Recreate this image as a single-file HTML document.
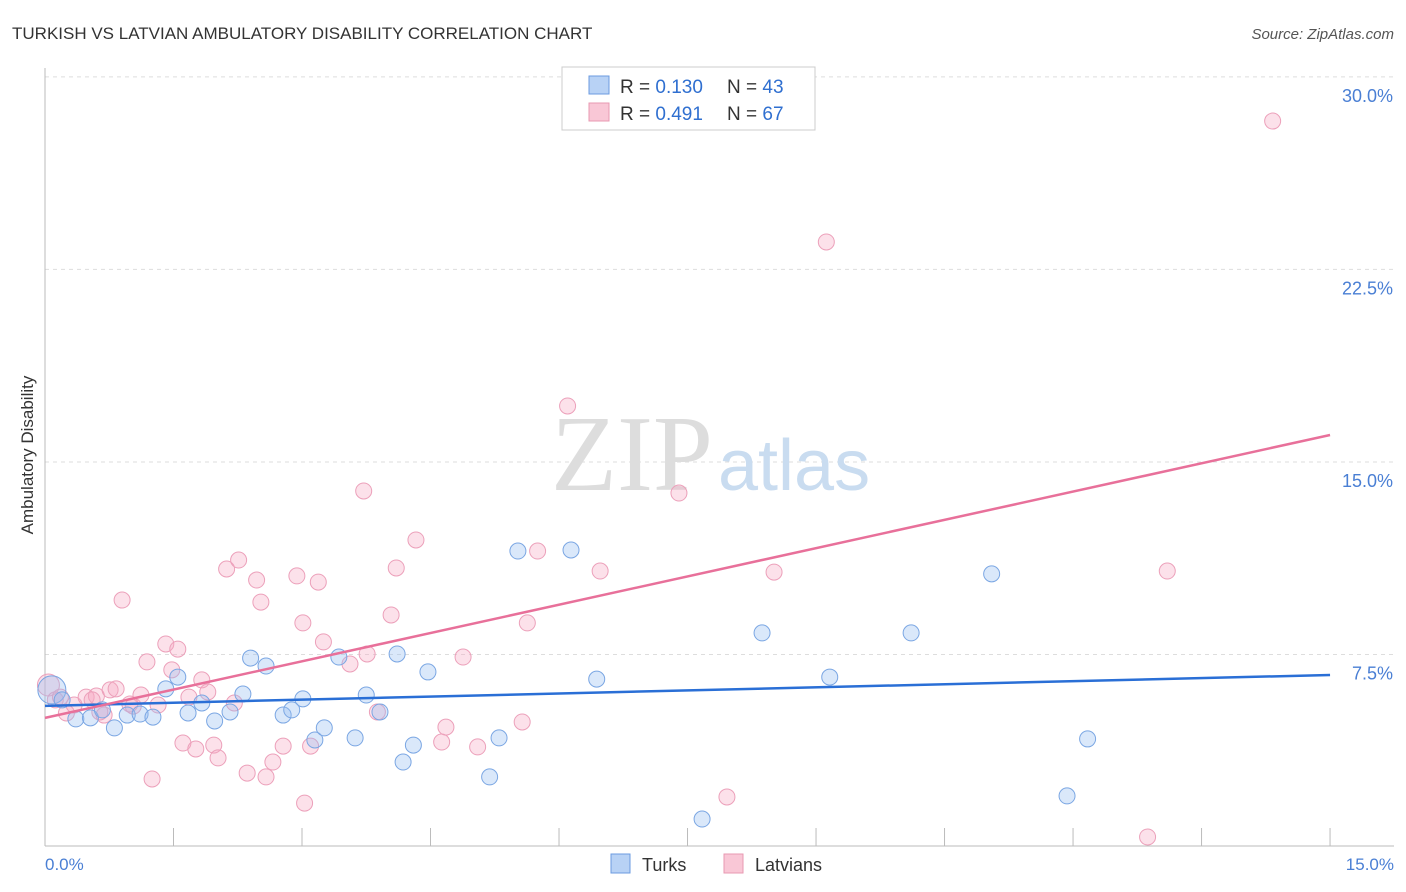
<!DOCTYPE html>
<html><head><meta charset="utf-8"><style>
body{margin:0;background:#fff;font-family:"Liberation Sans",sans-serif;}
svg{display:block}
</style></head><body>
<svg width="1406" height="892" xmlns="http://www.w3.org/2000/svg">
<text x="12" y="39" font-size="17" fill="#333">TURKISH VS LATVIAN AMBULATORY DISABILITY CORRELATION CHART</text>
<text x="1394" y="39" font-size="15" fill="#555" font-style="italic" text-anchor="end">Source: ZipAtlas.com</text>
<g id="grid"></g>
<text x="713" y="490" font-size="108" fill="#ddd" text-anchor="end" font-family="Liberation Serif,serif">ZIP</text>
<text x="718" y="490" font-size="72" fill="#c9dcf0">atlas</text>
<line x1="45" y1="68" x2="45" y2="846" stroke="#bbb"/>
<line x1="45" y1="846" x2="1394" y2="846" stroke="#bbb"/>
<g id="xticks"></g>
<text x="33" y="455" font-size="17" fill="#333" text-anchor="middle" transform="rotate(-90 33 455)">Ambulatory Disability</text>
<text x="45" y="870" font-size="17" fill="#4a7fd4">0.0%</text>
<text x="1394" y="870" font-size="17" fill="#4a7fd4" text-anchor="end">15.0%</text>
<g id="pts"></g>
<g id="trends"></g>
<g>
<rect x="562" y="67" width="253" height="63" fill="#fff" stroke="#ccc"/>
<rect x="589" y="76" width="20" height="18" fill="#b8d2f5" stroke="#6b9be0"/>
<rect x="589" y="103" width="20" height="18" fill="#f9c7d6" stroke="#e899b2"/>
<text x="620" y="93" font-size="19" fill="#333">R = <tspan fill="#2f6fd0">0.130</tspan></text>
<text x="727" y="93" font-size="19" fill="#333">N = <tspan fill="#2f6fd0">43</tspan></text>
<text x="620" y="120" font-size="19" fill="#333">R = <tspan fill="#2f6fd0">0.491</tspan></text>
<text x="727" y="120" font-size="19" fill="#333">N = <tspan fill="#2f6fd0">67</tspan></text>
</g>
<g>
<rect x="611" y="854" width="19" height="19" fill="#b8d2f5" stroke="#6b9be0"/>
<text x="642" y="871" font-size="18" fill="#333">Turks</text>
<rect x="724" y="854" width="19" height="19" fill="#f9c7d6" stroke="#e899b2"/>
<text x="755" y="871" font-size="18" fill="#333">Latvians</text>
</g>
</svg>
<script>
const yTicks=[7.5,15,22.5,30];
const yTickLabels=["7.5%","15.0%","22.5%","30.0%"];
const turksX=[0.08,0.20,0.36,0.53,0.67,0.81,0.96,1.11,1.26,1.41,1.55,1.67,1.83,1.98,2.16,2.31,2.40,2.58,2.78,2.88,3.01,3.15,3.26,3.43,3.62,3.75,3.91,4.11,4.18,4.30,4.47,5.19,5.30,5.52,6.14,6.44,7.67,8.37,9.16,10.11,11.05,11.93,12.17];
const turksY=[6.12,5.73,4.99,5.03,5.34,4.64,5.14,5.18,5.06,6.16,6.62,5.22,5.61,4.91,5.26,5.96,7.36,7.05,5.14,5.34,5.77,4.17,4.64,7.40,4.25,5.92,5.26,7.52,3.31,3.97,6.82,2.73,4.25,11.53,11.57,6.54,1.09,8.34,6.62,8.34,10.64,1.99,4.21];
const latX=[0.04,0.12,0.25,0.34,0.48,0.60,0.69,0.76,0.83,0.90,1.03,1.12,1.19,1.25,1.32,1.41,1.48,1.55,1.61,1.68,1.76,1.83,1.90,1.97,2.02,2.12,2.21,2.26,2.36,2.47,2.52,2.58,2.66,2.78,2.94,3.01,3.03,3.10,3.19,3.25,3.56,3.72,3.76,3.88,4.04,4.10,4.33,4.63,4.68,4.88,5.05,5.57,5.63,5.75,6.10,6.48,7.40,7.96,8.51,9.12,12.87,13.10,14.33,0.18,0.55,0.99,0.64];
const latY=[6.31,5.73,5.22,5.53,5.84,5.88,5.14,6.12,6.16,9.62,5.49,5.92,7.21,2.65,5.53,7.91,6.90,7.71,4.05,5.84,3.82,6.51,6.04,3.97,3.47,10.83,5.61,11.18,2.88,10.40,9.54,2.73,3.31,3.93,10.56,8.73,1.71,3.93,10.32,7.99,7.13,13.87,7.52,5.26,9.04,10.87,11.96,4.09,4.67,7.40,3.90,4.87,8.73,11.53,17.18,10.75,13.79,1.95,10.71,23.57,0.39,10.75,28.28,5.84,5.73,5.57,5.26];
const turksTrend=[5.5,6.7];
const latTrend=[5.03,16.05];
const NS="http://www.w3.org/2000/svg";
const sx=v=>45+v*85.67, sy=v=>847-v*25.67;
function mk(tag,attrs,parent){const e=document.createElementNS(NS,tag);for(const k in attrs)e.setAttribute(k,attrs[k]);parent.appendChild(e);return e;}
const grid=document.getElementById('grid');
yTicks.forEach((t,i)=>{
  const l=mk('line',{x1:45,x2:1394,y1:sy(t),y2:sy(t),stroke:'#ddd','stroke-dasharray':'4,4'},grid);
  
  
  const tx=mk('text',{x:1393,y:sy(t)+25,'font-size':18,fill:'#4a7fd4','text-anchor':'end'},grid);
  tx.textContent=yTickLabels[i];
  
  
});
const xt=document.getElementById('xticks');
for(let i=0;i<=10;i++){
  const l=mk('line',{x1:sx(i*1.5),x2:sx(i*1.5),y1:828,y2:846,stroke:'#bbb'},xt);
  
  
}
const pts=document.getElementById('pts');
latX.forEach((x,i)=>{
  const c=mk('circle',{cx:sx(x),cy:sy(latY[i]),r:i==0?11:8,fill:'rgba(246,170,195,0.35)',stroke:'#eca0ba','stroke-width':1},pts);
  
  
});
turksX.forEach((x,i)=>{
  const c=mk('circle',{cx:sx(x),cy:sy(turksY[i]),r:i==0?14:8,fill:'rgba(150,190,240,0.35)',stroke:'#7aa6e3','stroke-width':1},pts);
  
  
});
const tr=document.getElementById('trends');
const b=mk('line',{x1:sx(0),y1:sy(turksTrend[0]),x2:sx(15),y2:sy(turksTrend[1]),stroke:'#2a6fd6','stroke-width':2.5},tr);


const p=mk('line',{x1:sx(0),y1:sy(latTrend[0]),x2:sx(15),y2:sy(latTrend[1]),stroke:'#e8709a','stroke-width':2.5},tr);


</script>
</body></html>
